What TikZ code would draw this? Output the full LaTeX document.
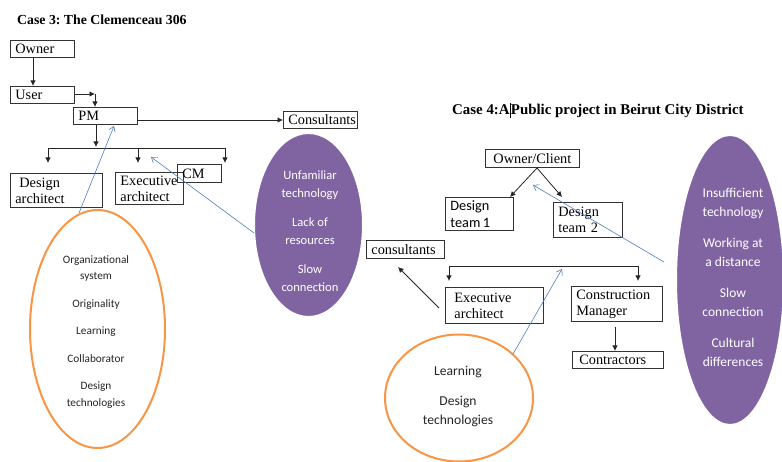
\documentclass[tikz,border=0pt]{standalone}
\usepackage{fontspec}
\setmainfont{Liberation Serif}
\newfontfamily\calfont{Carlito}
\usetikzlibrary{arrows.meta,shapes.geometric}
\definecolor{orgline}{HTML}{F79646}
\definecolor{purp}{HTML}{8064A2}
\definecolor{bluel}{HTML}{4F81BD}
\frenchspacing
\begin{document}
\begin{tikzpicture}[x=1pt,y=-1pt,
  bx/.style={draw=black!80, line width=0.8pt, anchor=north west, inner xsep=5pt, inner ysep=0pt, align=left,
    font=\fontsize{14.3}{16}\selectfont},
  ttl/.style={anchor=base west, inner sep=0pt, font=\fontsize{13.8}{15}\selectfont\bfseries},
  arr/.style={line width=0.8pt, black!85, -{Latex[length=5.5pt,width=5.5pt]}},
  ln/.style={line width=0.8pt, black!85},
  barr/.style={line width=0.6pt, bluel, -{Straight Barb[length=5pt,width=7pt]}},
  oell/.style={ellipse, draw=orgline, line width=2pt, inner sep=0pt},
  pell/.style={ellipse, fill=purp, draw=white, line width=2pt, inner sep=0pt},
  ptxt/.style={align=center, text=white, inner sep=0pt},
]
\clip (0,0) rectangle (782,462);
\fill[white] (0,0) rectangle (782,462);

% ---------- Case 3 ----------
\node[ttl] (t3) at (17,25) {Case 3: The Clemenceau 306};

\node[bx, minimum width=64pt, minimum height=17pt, text width=54pt] (owner) at (10,40) {Owner};
\node[bx, minimum width=64pt, minimum height=17pt, text width=54pt] (user) at (10,86) {User};
\node[bx, minimum width=64pt, minimum height=17pt, text width=54pt] (pm) at (73,107) {PM};
\node[bx, minimum width=74pt, minimum height=17pt, text width=64pt] (cons) at (283,111) {Consultants};
\node[bx, minimum width=92pt, minimum height=34pt, text width=82pt] (da) at (10,173) {\hspace*{4pt}Design\\architect};
\node[bx, minimum width=68pt, minimum height=32pt, text width=58pt, fill=white] (ea) at (115,172) {Executive\\architect};
\node[bx, minimum width=44pt, minimum height=18pt, text width=34pt] (cm) at (177,164) {CM};

\draw[arr] (owner.south -| 33,0) -- (user.north -| 33,0);
\coordinate (uc) at (95,94);
\draw[arr] (user.east |- uc) -- (uc);
\draw[arr] (uc) -- (pm.north -| uc);
\coordinate (pmb) at (96,147);
\draw[arr] (pm.south -| pmb) -- (pmb);
\coordinate (bl) at (48,148);
\coordinate (bm) at (138,148);
\coordinate (br) at (225,148);
\draw[ln] (bl) -- (br);
\coordinate (blb) at (48,163);
\coordinate (bmb) at (138,163);
\coordinate (brb) at (225,163);
\draw[arr] (bl) -- (blb);
\draw[arr] (bm) -- (bmb);
\draw[arr] (br) -- (brb);
\draw[arr] (pm.east |- 0,120) -- (cons.west |- 0,120);

\node[oell, minimum width=135pt, minimum height=238pt] (oe1) at (97.5,329) {};
\node[align=center, inner sep=0pt, font=\calfont\fontsize{11.3}{16.5}\selectfont, text=black!85] (oe1t) at (96,332)
  {Organizational\\system\\[11pt]Originality\\[11pt]Learning\\[11pt]Collaborator\\[11pt]Design\\technologies};

\node[pell, minimum width=109pt, minimum height=184pt] (pe1) at (308.5,225) {};
\node[ptxt, font=\calfont\fontsize{12.6}{18.5}\selectfont] (pe1t) at (310,231)
  {Unfamiliar\\technology\\[10pt]Lack of\\resources\\[10pt]Slow\\connection};

\coordinate (b1s) at (79,213);
\coordinate (b1e) at (114,126);
\draw[barr] (b1s) -- (b1e);
\coordinate (b2s) at (254,233);
\coordinate (b2e) at (151,157);
\draw[barr] (b2s) -- (b2e);

% ---------- Case 4 ----------
\node[ttl, font=\fontsize{14.9}{17}\selectfont\bfseries] (t4) at (452,115) {Case 4:A\rule[-3pt]{1.2pt}{15pt}Public project in Beirut City District};

\node[bx, minimum width=94pt, minimum height=18pt, text width=84pt, align=center] (oc) at (485,149) {Owner/Client};
\node[bx, minimum width=68pt, minimum height=33pt, text width=58pt, font=\calfont\fontsize{14.3}{17}\selectfont] (dt1) at (445,197) {Design\\team\,1};
\node[bx, minimum width=69pt, minimum height=35pt, text width=59pt] (dt2) at (553,202) {Design\\team 2};
\node[bx, minimum width=78pt, minimum height=18pt, text width=68pt] (cons2) at (366,240) {consultants};
\node[bx, minimum width=98pt, minimum height=36pt, text width=88pt] (ea2) at (445,287) {\hspace*{4pt}Executive\\\hspace*{4pt}architect};
\node[bx, minimum width=91pt, minimum height=35pt, text width=81pt] (cmgr) at (571,286) {Construction\\Manager};
\node[bx, minimum width=91pt, minimum height=17pt, text width=81pt] (contr) at (572,351) {\hspace*{2pt}Contractors};

\coordinate (ocb) at (537,168);
\draw[arr] (ocb) -- (510,197);
\draw[arr] (ocb) -- (562,197);

\coordinate (cl) at (449,266);
\coordinate (cr) at (638,266);
\draw[ln] (cl) -- (cr);
\draw[arr] (cl) -- (449,281);
\draw[arr] (cr) -- (638,281);

\coordinate (eas) at (439,308);
\coordinate (eae) at (398,267);
\draw[arr] (eas) -- (eae);
\coordinate (cms) at (615,327);
\draw[arr] (cms) -- (contr.north -| cms);

\node[oell, minimum width=148pt, minimum height=127pt] (oe2) at (459,398) {};
\node[align=center, inner sep=0pt, font=\calfont\fontsize{13.6}{19}\selectfont, text=black!85] (oe2t) at (458,396)
  {Learning\\[11pt]Design\\technologies};

\node[pell, minimum width=108pt, minimum height=290pt] (pe2) at (730,280) {};
\node[ptxt, font=\calfont\fontsize{13.5}{19}\selectfont] (pe2t) at (733,277)
  {Insufficient\\technology\\[12pt]Working at\\a distance\\[12pt]Slow\\connection\\[12pt]Cultural\\differences};

\coordinate (b3s) at (664,262);
\coordinate (b3e) at (533,185);
\draw[barr] (b3s) -- (b3e);
\coordinate (b4s) at (513,354);
\coordinate (b4e) at (562,269);
\draw[barr] (b4s) -- (b4e);
\end{tikzpicture}
\end{document}
